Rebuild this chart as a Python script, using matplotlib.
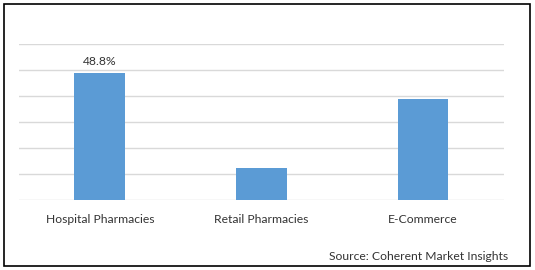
import matplotlib
matplotlib.use("Agg")
import matplotlib.pyplot as plt
from matplotlib.patches import Rectangle

categories = ["Hospital Pharmacies", "Retail Pharmacies", "E-Commerce"]
values = [48.8, 12.3, 38.9]
labels = ["48.8%", "", ""]
yticks = [0, 10, 20, 30, 40, 50, 60]

W, H = 535, 270
fig = plt.figure(figsize=(W / 100, H / 100), dpi=100)
plt.rcParams['font.family'] = ['Lato', 'DejaVu Sans']

ax = fig.add_axes([19 / W, (H - 200) / H, (503.7 - 19) / W, (200 - 44) / H])
x = range(len(categories))
bars = ax.bar(x, values, width=0.314, color="#5b9bd5", zorder=2)
ax.set_xlim(-0.5, len(categories) - 0.5)
ax.set_ylim(0, 60)
ax.set_yticks(yticks)
ax.yaxis.grid(True, color="#d9d9d9", linewidth=1)
ax.set_axisbelow(True)
for s in ax.spines.values():
    s.set_visible(False)
ax.tick_params(axis="y", left=False, labelleft=False)
ax.tick_params(axis="x", bottom=False, pad=6.5, labelsize=8.7, labelcolor="#333333")
ax.set_xticks(list(x))
ax.set_xticklabels(categories)
for b, lab in zip(bars, labels):
    if lab:
        ax.annotate(lab, (b.get_x() + b.get_width() / 2, b.get_height()),
                    xytext=(0, 4.5), textcoords="offset points",
                    ha="center", va="bottom", fontsize=8.7, color="#333333")

fig.text(508 / W, (H - 256) / H, "Source: Coherent Market Insights",
         ha="right", va="center", fontsize=8.7, color="#333333")

fig.patches.append(Rectangle((4 / W, 4 / H), 526 / W, 262 / H, transform=fig.transFigure,
                             fill=False, edgecolor="black", linewidth=1.2))

fig.savefig("out.png", dpi=100)
